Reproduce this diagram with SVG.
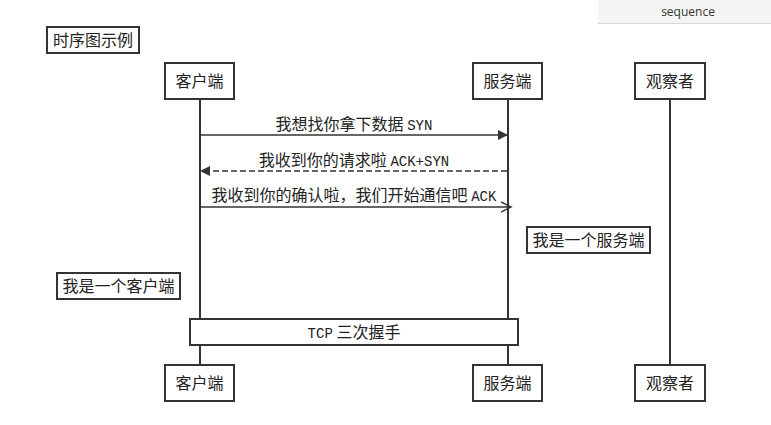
<svg xmlns="http://www.w3.org/2000/svg" width="771" height="425" viewBox="0 0 771 425">
<style>
.box{fill:#fff;stroke:#333;stroke-width:2}
.life{stroke:#333;stroke-width:2;fill:none}
.msg{stroke:#333;stroke-width:1.5;fill:none}
.t{font-family:"Noto Sans CJK SC","Liberation Sans",sans-serif;font-size:16px;fill:#222;text-anchor:middle}
.m{font-family:"Liberation Mono","Noto Sans CJK SC",monospace;font-size:14px}
</style>
<defs>
<marker id="fill" markerWidth="10" markerHeight="10" refX="9" refY="5" orient="auto" markerUnits="userSpaceOnUse">
<path d="M0,0 L10,5 L0,10 z" fill="#333"/>
</marker>
<marker id="open" markerWidth="12" markerHeight="12" refX="10" refY="6" orient="auto" markerUnits="userSpaceOnUse">
<path d="M0,1 L10,6 L0,11" fill="none" stroke="#333" stroke-width="1.5"/>
</marker>
</defs>
<rect width="771" height="425" fill="#fff"/>
<g id="tab">
<rect x="598" y="0" width="173" height="23" fill="#f5f5f5"/>
<line x1="598" y1="23.5" x2="771" y2="23.5" stroke="#d8d8d8"/>
<text x="688" y="16" font-family="'Open Sans','Liberation Sans',sans-serif" font-size="12" fill="#333" text-anchor="middle">sequence</text>
</g>
<g id="title">
<rect class="box" x="47" y="27" width="92" height="26"/>
<text class="t" x="93" y="46">时序图示例</text>
</g>
<g id="lifelines">
<line class="life" x1="200" y1="99" x2="200" y2="365"/>
<line class="life" x1="508" y1="99" x2="508" y2="365"/>
<line class="life" x1="670" y1="99" x2="670" y2="365"/>
</g>
<g id="client-top"><rect class="box" x="165" y="63" width="69" height="36"/><text class="t" x="199.5" y="87">客户端</text></g>
<g id="server-top"><rect class="box" x="473" y="63" width="69" height="36"/><text class="t" x="507.5" y="87">服务端</text></g>
<g id="observer-top"><rect class="box" x="635" y="63" width="70" height="36"/><text class="t" x="670" y="87">观察者</text></g>
<g id="connectors">
<line class="msg" x1="201" y1="135" x2="507" y2="135" marker-end="url(#fill)"/>
<text class="t" x="354" y="130">我想找你拿下数据 <tspan class="m">SYN</tspan></text>
<line class="msg" x1="507" y1="171" x2="201" y2="171" stroke-dasharray="6,3" marker-end="url(#fill)"/>
<text class="t" x="354" y="166">我收到你的请求啦 <tspan class="m">ACK+SYN</tspan></text>
<line class="msg" x1="201" y1="207" x2="511" y2="207" marker-end="url(#open)"/>
<text class="t" x="354" y="201">我收到你的确认啦，我们开始通信吧 <tspan class="m">ACK</tspan></text>
</g>
<g id="note-server"><rect class="box" x="527" y="227" width="123" height="26"/><text class="t" x="588.5" y="246">我是一个服务端</text></g>
<g id="note-client"><rect class="box" x="57" y="273" width="123" height="26"/><text class="t" x="118.5" y="292">我是一个客户端</text></g>
<g id="note-tcp"><rect class="box" x="190" y="319" width="328" height="26"/><text class="t" x="354" y="338"><tspan class="m">TCP</tspan> 三次握手</text></g>
<g id="client-bottom"><rect class="box" x="165" y="365" width="69" height="36"/><text class="t" x="199.5" y="389">客户端</text></g>
<g id="server-bottom"><rect class="box" x="473" y="365" width="69" height="36"/><text class="t" x="507.5" y="389">服务端</text></g>
<g id="observer-bottom"><rect class="box" x="635" y="365" width="70" height="36"/><text class="t" x="670" y="389">观察者</text></g>
</svg>
